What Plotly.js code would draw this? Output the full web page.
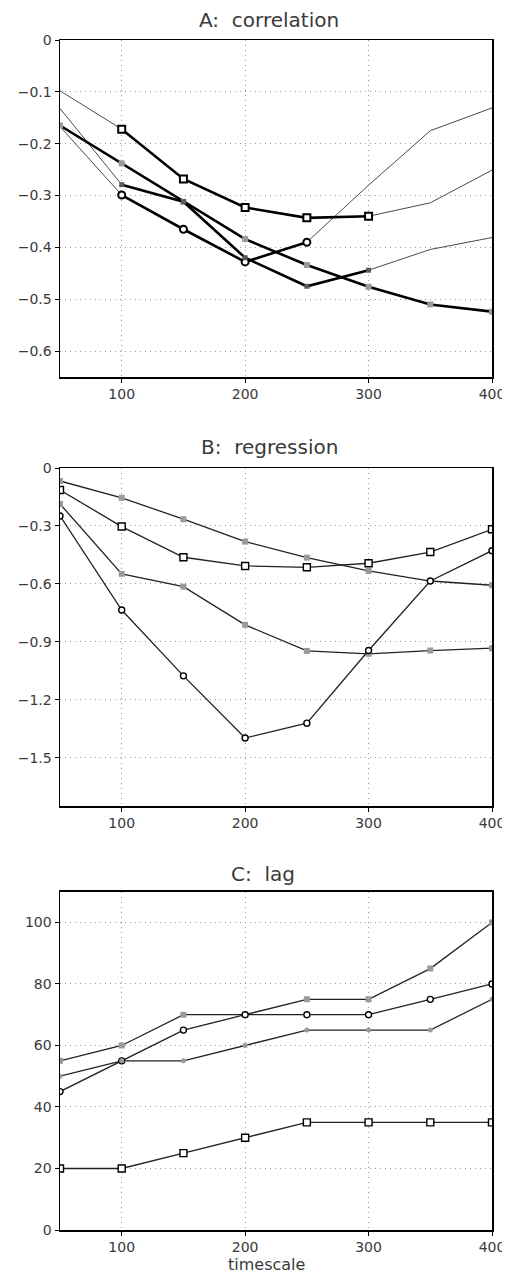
<!DOCTYPE html>
<html>
<head>
<meta charset="utf-8">
<script src="https://cdn.plot.ly/plotly-3.0.1.min.js"></script>
<style>html,body{margin:0;padding:0;background:#fff;}#chart{width:515px;height:1275px;}</style>
</head>
<body>
<div id="chart"></div>
<script>
// ---- data ----
const timescale = [50, 100, 150, 200, 250, 300, 350, 400];
const xTickVals = [100, 200, 300, 400];
const xTickText = ['100', '200', '300', '400'];

const panelTitles = ['A:  correlation', 'B:  regression', 'C:  lag'];
const xAxisLabel = 'timescale';

// A: correlation (4 series) ; significant (bold) index ranges
const corrA1 = [-0.098, -0.172, -0.268, -0.323, -0.343, -0.340, -0.314, -0.251];
const corrA2 = [-0.167, -0.299, -0.365, -0.428, -0.390, -0.280, -0.175, -0.131];
const corrA3 = [-0.165, -0.238, -0.312, -0.384, -0.434, -0.476, -0.510, -0.524];
const corrA4 = [-0.132, -0.279, -0.312, -0.420, -0.475, -0.444, -0.404, -0.381];
const corrSigFrom = [1, 1, 0, 1];
const corrSigTo   = [5, 4, 7, 5];

// B: regression
const regB1 = [-0.067, -0.154, -0.265, -0.381, -0.464, -0.533, -0.585, -0.607];
const regB2 = [-0.114, -0.303, -0.462, -0.507, -0.514, -0.493, -0.435, -0.317];
const regB3 = [-0.186, -0.548, -0.614, -0.812, -0.947, -0.962, -0.945, -0.933];
const regB4 = [-0.248, -0.735, -1.076, -1.398, -1.321, -0.945, -0.585, -0.428];

// C: lag
const lagC1 = [55, 60, 70, 70, 75, 75, 85, 100];
const lagC2 = [45, 55, 65, 70, 70, 70, 75, 80];
const lagC3 = [50, 55, 55, 60, 65, 65, 65, 75];
const lagC4 = [20, 20, 25, 30, 35, 35, 35, 35];

// ---- styles ----
const FONT = 'DejaVu Sans, sans-serif';
const TXT = '#3a3a3a';
const openSq = {symbol: 'square', size: 7, color: '#fff', line: {color: '#000', width: 1.4}};
const openCi = {symbol: 'circle', size: 6, color: '#fff', line: {color: '#000', width: 1.4}};
const graySq = {symbol: 'square', size: 6, color: '#9a9a9a', line: {width: 0}};
const dkSq = {symbol: 'square', size: 5, color: '#5a5a5a', line: {width: 0}};

const traces = [];

// panel A
const corrSeries = [corrA1, corrA2, corrA3, corrA4];
const corrMarkers = [
  {symbol: 'square', size: 7, color: '#fff', line: {color: '#000', width: 2}},
  {symbol: 'circle', size: 7, color: '#fff', line: {color: '#000', width: 2}},
  graySq, dkSq
];
corrSeries.forEach(function (s) {
  traces.push({x: timescale, y: s, xaxis: 'x', yaxis: 'y', mode: 'lines',
    line: {color: '#4a4a4a', width: 1}, hoverinfo: 'skip'});
});
corrSeries.forEach(function (s, i) {
  const a = corrSigFrom[i], b = corrSigTo[i] + 1;
  traces.push({x: timescale.slice(a, b), y: s.slice(a, b), xaxis: 'x', yaxis: 'y',
    mode: 'lines+markers', line: {color: '#000', width: 2.6}, marker: corrMarkers[i]});
});

// panel B
[[regB1, graySq], [regB2, openSq], [regB3, graySq], [regB4, openCi]].forEach(function (p) {
  traces.push({x: timescale, y: p[0], xaxis: 'x2', yaxis: 'y2', mode: 'lines+markers',
    line: {color: '#222', width: 1.3}, marker: p[1]});
});

// panel C
[[lagC1, graySq], [lagC2, openCi], [lagC3, {symbol: 'circle', size: 5, color: '#9a9a9a'}], [lagC4, openSq]].forEach(function (p) {
  traces.push({x: timescale, y: p[0], xaxis: 'x3', yaxis: 'y3', mode: 'lines+markers',
    line: {color: '#222', width: 1.3}, marker: p[1]});
});

function xax(anchor) {
  return {anchor: anchor, range: [50, 400], tickvals: xTickVals, ticktext: xTickText,
    showgrid: true, gridcolor: '#9a9a9a', gridwidth: 1, griddash: '1px,4px',
    showline: true, mirror: true, linecolor: '#000', linewidth: 1.5,
    ticks: 'outside', ticklen: 4, tickcolor: '#000', tickwidth: 1,
    zeroline: false, tickfont: {family: FONT, size: 14, color: TXT}, fixedrange: true};
}
function yax(anchor, domain, range, dtick) {
  return {anchor: anchor, domain: domain, range: range, dtick: dtick, tick0: 0,
    showgrid: true, gridcolor: '#9a9a9a', gridwidth: 1, griddash: '1px,4px',
    showline: true, mirror: true, linecolor: '#000', linewidth: 1.5,
    ticks: 'outside', ticklen: 4, tickcolor: '#000', tickwidth: 1,
    zeroline: false, tickfont: {family: FONT, size: 14, color: TXT}, fixedrange: true};
}

const layout = {
  width: 515, height: 1275,
  margin: {l: 60, r: 23, t: 40, b: 45},
  paper_bgcolor: '#fff', plot_bgcolor: '#fff',
  showlegend: false,
  font: {family: FONT, color: TXT},
  xaxis: xax('y'),
  yaxis: yax('x', [0.7168, 1], [-0.65, 0], 0.1),
  xaxis2: xax('y2'),
  yaxis2: yax('x2', [0.3563, 0.6403], [-1.75, 0], 0.3),
  xaxis3: xax('y3'),
  yaxis3: yax('x3', [0, 0.2843], [0, 110], 20),
  annotations: [
    {text: panelTitles[0], xref: 'paper', yref: 'paper', x: 0.484, y: 1.0168, xanchor: 'center', yanchor: 'middle', showarrow: false, font: {family: FONT, size: 20, color: TXT}},
    {text: panelTitles[1], xref: 'paper', yref: 'paper', x: 0.485, y: 0.658, xanchor: 'center', yanchor: 'middle', showarrow: false, font: {family: FONT, size: 20, color: TXT}},
    {text: panelTitles[2], xref: 'paper', yref: 'paper', x: 0.471, y: 0.2992, xanchor: 'center', yanchor: 'middle', showarrow: false, font: {family: FONT, size: 20, color: TXT}},
    {text: xAxisLabel, xref: 'paper', yref: 'paper', x: 0.477, y: -0.0294, xanchor: 'center', yanchor: 'middle', showarrow: false, font: {family: FONT, size: 16, color: TXT}}
  ],
  shapes: [
    {type: 'rect', xref: 'paper', yref: 'paper', x0: 1.023, x1: 1.1, y0: -0.05, y1: 1.05,
     fillcolor: '#fff', line: {width: 0}, layer: 'above'}
  ]
};

Plotly.newPlot('chart', traces, layout, {displayModeBar: false, staticPlot: true});
</script>
</body>
</html>
